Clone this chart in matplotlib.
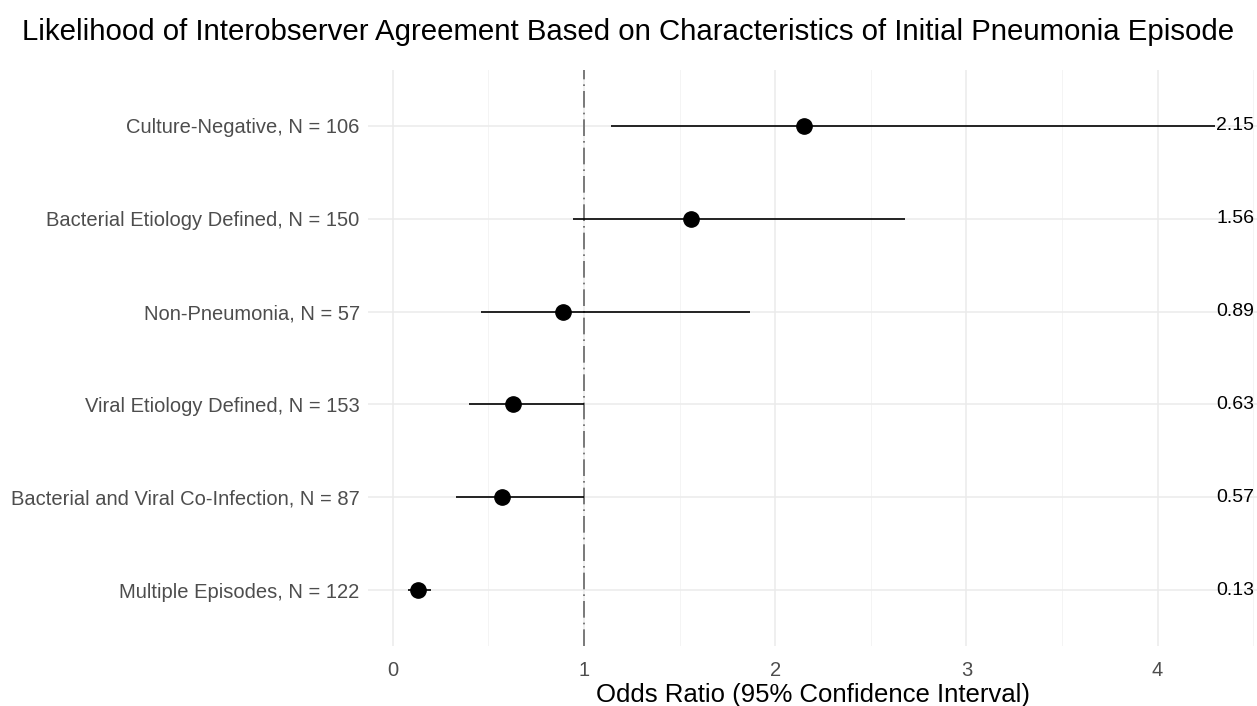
import matplotlib.pyplot as plt
import numpy as np

plt.rcParams['font.family'] = ['Liberation Sans', 'DejaVu Sans']

categorias = ['Multiple Episodes, N = 122',
              'Bacterial and Viral Co-Infection, N = 87',
              'Viral Etiology Defined, N = 153',
              'Non-Pneumonia, N = 57',
              'Bacterial Etiology Defined, N = 150',
              'Culture-Negative, N = 106']
odds_ratio = [0.13, 0.57, 0.63, 0.89, 1.56, 2.15]
ic_inferior = [0.08, 0.33, 0.40, 0.46, 0.94, 1.14]
ic_superior = [0.20, 1.00, 1.00, 1.87, 2.68, 4.30]

fig = plt.figure(figsize=(12.57, 7.06), dpi=100)
ax = fig.add_axes([0.2928, 0.085, 0.7072, 0.8158])

y = np.arange(1, len(categorias) + 1)

# grade estilo theme_minimal
for xv in np.arange(0, 5, 1):
    ax.axvline(xv, color='#ebebeb', linewidth=1.1, zorder=0)
for xv in np.arange(0.5, 5, 1):
    ax.axvline(xv, color='#f2f2f2', linewidth=0.6, zorder=0)
for yv in y:
    ax.axhline(yv, color='#ebebeb', linewidth=1.1, zorder=0)

ax.axvline(1, color='#666666', linestyle=(0, (10, 3, 1, 3)), linewidth=1.2, zorder=1)

ax.hlines(y, ic_inferior, ic_superior, color='black', linewidth=1.2, zorder=2)
ax.plot(odds_ratio, y, 'o', color='black', markersize=11, zorder=3)

for yi, v in zip(y, odds_ratio):
    ax.text(0.997, yi, f'{v:.2f}', transform=ax.get_yaxis_transform(),
            ha='right', va='center', fontsize=14, color='black')

ax.set_xlim(-0.13, 4.52)
ax.set_ylim(0.4, 6.6)
ax.set_xticks([0, 1, 2, 3, 4])
ax.set_yticks(y)
ax.set_yticklabels(categorias)
ax.tick_params(axis='both', length=0, labelsize=14.5, labelcolor='#4d4d4d')
ax.tick_params(axis='x', pad=11)
ax.tick_params(axis='y', pad=6)
for s in ax.spines.values():
    s.set_visible(False)

ax.set_xlabel('Odds Ratio (95% Confidence Interval)', fontsize=18.5, labelpad=2)
fig.suptitle('Likelihood of Interobserver Agreement Based on Characteristics of Initial Pneumonia Episode',
             x=0.5, y=0.975, fontsize=21.2)

plt.savefig('out.png', dpi=100)
